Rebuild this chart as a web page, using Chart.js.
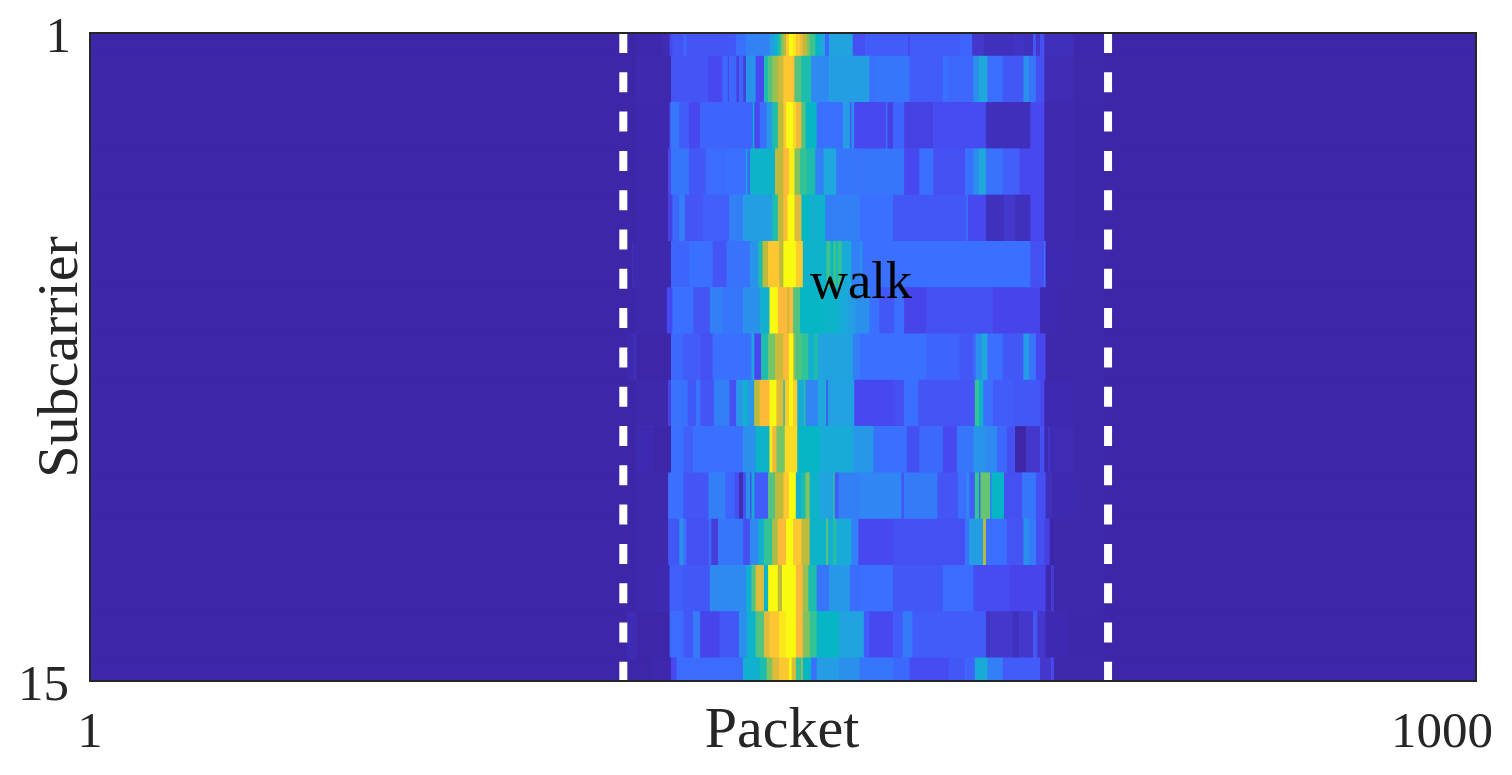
<!DOCTYPE html>
<html>
<head>
<meta charset="utf-8">
<title>walk</title>
<script src="https://cdn.jsdelivr.net/npm/chart.js@4"></script>
<style>
  html, body { margin: 0; padding: 0; background: #fff; }
  canvas { display: block; }
</style>
</head>
<body>
<canvas id="heatmap" width="1512" height="775"></canvas>
<script>
// each row: [first packet of the run, amplitude 0..1], a run lasts until the next one starts
const row01 = [[1,0],[395,.008],[414,.018],[419,.1],[421,.13],[429,.18],[431,.13],[460,.14],[467,.2],[474,.26],[491,.35],[494,.45],[497,.55],[499,.7],[501,.8],[503,.92],[505,1],[508,.97],[510,.92],[513,.88],[515,.8],[518,.72],[520,.62],[524,.5],[527,.4],[531,.18],[534,.38],[551,.12],[560,.15],[591,.08],[592,.15],[628,.17],[637,.05],[645,.03],[667,.04],[674,.03],[681,.14],[683,.05],[686,.12],[689,.025],[710,.008],[732,0]];
const row02 = [[1,0],[395,.01],[414,.005],[420,.13],[447,.1],[457,.18],[461,.1],[462,.18],[467,.08],[469,.17],[472,.07],[474,.32],[481,.1],[487,.55],[490,.65],[493,.75],[497,.82],[501,.92],[508,.9],[509,.65],[514,.55],[521,.28],[534,.36],[563,.2],[567,.22],[592,.15],[616,.2],[619,.18],[638,.3],[642,.4],[648,.2],[659,.14],[674,.3],[678,.22],[683,.12],[689,.018],[710,.005],[732,0]];
const row03 = [[1,0],[395,.008],[419,.15],[420,.22],[426,.15],[433,.1],[441,.17],[479,.5],[480,.1],[484,.2],[489,.33],[493,.55],[497,.8],[501,.92],[503,1],[508,.95],[510,.88],[514,.65],[517,.5],[525,.2],[544,.35],[549,.12],[550,.3],[552,.1],[575,.2],[576,.08],[580,.17],[588,.08],[609,.11],[647,.03],[652,.025],[679,.1],[689,.01],[710,.003],[732,0]];
const row04 = [[1,0],[395,.005],[418,.1],[420,.22],[433,.14],[445,.19],[460,.2],[474,.45],[475,.18],[477,.48],[495,.8],[501,.9],[505,.98],[509,.72],[513,.6],[518,.55],[524,.25],[530,.4],[539,.22],[557,.2],[558,.22],[588,.1],[599,.2],[609,.12],[632,.2],[638,.3],[642,.4],[647,.21],[659,.16],[671,.1],[689,.01],[710,.003],[732,0]];
const row05 = [[1,0],[395,.008],[418,.08],[421,.18],[426,.25],[430,.13],[443,.16],[462,.25],[472,.36],[493,.55],[497,.8],[501,.9],[504,1],[509,.85],[514,.5],[520,.45],[525,.48],[531,.25],[556,.2],[580,.14],[633,.22],[634,.1],[647,.03],[660,.05],[668,.03],[679,.1],[689,.01],[710,.003],[732,0]];
const row06 = [[1,0],[392,.012],[398,.005],[420,.17],[433,.2],[450,.13],[460,.21],[477,.32],[483,.55],[486,.8],[490,.92],[498,.8],[501,1],[510,.93],[515,.47],[532,.62],[535,.5],[537,.62],[539,.5],[540,.6],[543,.42],[550,.25],[556,.3],[558,.2],[679,.12],[689,.2],[690,.012],[710,.005],[732,0]];
const row07 = [[1,0],[395,.005],[417,.1],[421,.2],[436,.13],[448,.25],[457,.22],[472,.3],[484,.45],[491,1],[497,.9],[504,.8],[505,.9],[508,.65],[513,.5],[530,.48],[541,.42],[547,.36],[553,.3],[563,.2],[570,.14],[581,.2],[588,.09],[604,.12],[652,.09],[686,.012],[700,.005],[732,0]];
const row08 = [[1,0],[388,.012],[393,.025],[395,0],[420,.18],[429,.15],[441,.12],[450,.2],[478,.4],[480,.1],[485,.55],[490,.7],[495,.82],[501,.9],[505,1],[508,.85],[509,.65],[514,.6],[519,.45],[523,.55],[526,.38],[551,.25],[556,.2],[604,.17],[628,.14],[638,.2],[640,.3],[644,.4],[648,.2],[659,.14],[674,.35],[678,.22],[683,.1],[690,.005],[732,0]];
const row09 = [[1,0],[395,.005],[418,.08],[420,.21],[432,.14],[438,.22],[441,.13],[451,.25],[462,.12],[467,.33],[472,.47],[475,.33],[480,.8],[484,.9],[491,1],[496,.85],[501,.55],[502,.92],[505,1],[508,.93],[511,.43],[516,.58],[517,.27],[526,.4],[532,.1],[533,.37],[552,.1],[581,.12],[588,.2],[598,.13],[639,.6],[642,.48],[645,.2],[652,.15],[666,.14],[686,.1],[689,.012],[710,.005],[732,0]];
const row10 = [[1,0],[395,.012],[408,0],[420,.2],[429,.16],[436,.2],[472,.3],[481,.48],[491,.98],[493,.88],[496,.7],[502,.95],[511,.5],[527,.42],[551,.33],[566,.2],[580,.2],[590,.12],[599,.18],[616,.1],[626,.22],[638,.32],[647,.28],[655,.18],[662,.12],[668,0],[676,.05],[686,.12],[689,.012],[692,.06],[693,.018],[710,.005],[732,0]];
const row11 = [[1,0],[395,.005],[418,.2],[429,.13],[447,.25],[459,.17],[466,.12],[469,.02],[472,.12],[474,.3],[477,.1],[478,.45],[480,.15],[490,.65],[495,.8],[501,.92],[505,1],[510,.45],[514,.55],[517,.72],[520,.48],[527,.38],[537,.6],[538,.15],[541,.25],[556,.27],[586,.14],[588,.24],[612,.13],[627,.2],[633,.28],[635,.15],[639,.6],[642,.15],[643,.68],[650,.2],[651,.5],[660,.12],[673,.22],[683,.12],[690,.025],[694,.012],[714,.005],[732,0]];
const row12 = [[1,0],[395,.005],[418,.14],[426,.3],[429,.2],[431,.12],[447,.18],[449,.07],[454,.22],[472,.12],[477,.28],[483,.45],[487,.6],[493,.78],[497,.9],[503,1],[508,.92],[514,.8],[520,.48],[532,.72],[533,.45],[537,.58],[539,.42],[550,.25],[555,.1],[580,.12],[632,.22],[635,.36],[645,.8],[647,.2],[662,.13],[674,.3],[678,.24],[683,.12],[689,.08],[693,0],[696,.005],[732,0]];
const row13 = [[1,0],[395,.005],[408,.012],[419,.16],[429,.14],[448,.28],[474,.45],[478,.65],[481,.85],[487,.48],[490,1],[497,.8],[500,1],[510,.9],[515,.75],[519,.55],[525,.22],[534,.33],[549,.19],[556,.2],[580,.14],[616,.19],[638,.11],[664,.09],[690,.012],[694,.06],[696,.005],[732,0]];
const row14 = [[1,0],[388,.018],[395,0],[419,.19],[429,.14],[436,.24],[441,.09],[455,.14],[469,.3],[475,.48],[481,.65],[487,.85],[491,.92],[498,.97],[503,1],[510,.9],[515,.72],[520,.6],[525,.5],[541,.38],[559,.15],[563,.1],[580,.15],[587,.24],[594,.15],[647,.04],[650,.05],[666,.03],[671,.05],[681,.14],[684,.05],[690,.012],[706,.003],[732,0]];
const row15 = [[1,0],[407,.008],[420,.1],[424,.19],[472,.46],[484,.55],[489,.72],[493,.85],[498,.92],[505,1],[507,.85],[510,.6],[514,.8],[515,.5],[521,.2],[525,.35],[541,.3],[556,.22],[580,.18],[592,.11],[620,.14],[632,.17],[639,.42],[648,.25],[659,.15],[686,.05],[694,.1],[696,.005],[732,0]];

const rows = [row01, row02, row03, row04, row05, row06, row07, row08, row09, row10, row11, row12, row13, row14, row15];
const subcarriers = [1, 2, 3, 4, 5, 6, 7, 8, 9, 10, 11, 12, 13, 14, 15];
const lastPacket = 1000;

const yTickLabels = ['1', '15'];
const xTickLabels = ['1', '1000'];
const markerPackets = [385.4, 734.8];

// colour ramp, 11 even steps from 0 to 1
const ramp = [[61,38,168],[72,72,240],[58,112,255],[43,143,236],[30,168,220],[7,182,196],[50,195,150],[115,197,105],[190,187,60],[253,186,58],[248,250,15]];

function colourFor(v) {
    const pos = Math.min(v, 1) * (ramp.length - 1);
    const i = Math.min(Math.floor(pos), ramp.length - 2);
    const t = pos - i;
    const c = [0, 1, 2].map(k => Math.round(ramp[i][k] + (ramp[i + 1][k] - ramp[i][k]) * t));
    return `rgb(${c[0]},${c[1]},${c[2]})`;
}

// floating bars, one per run
const cells = [];
const cellColours = [];
rows.forEach((row, r) => {
    row.forEach((run, i) => {
        const end = i + 1 < row.length ? row[i + 1][0] : lastPacket;
        cells.push({ x: [run[0], end], y: subcarriers[r] });
        cellColours.push(colourFor(run[1]));
    });
});

const markerSets = markerPackets.map(p => ({
    type: 'line',
    data: [{ x: p, y: 1 }, { x: p, y: 15 }],
    borderColor: '#fff',
    borderWidth: 8,
    borderDash: [20, 19.3],
    pointRadius: 0,
    order: 0
}));

// frame and text
const textPlugin = {
    id: 'textPlugin',
    afterDraw(chart) {
        const ctx = chart.ctx;
        const a = chart.chartArea;
        const xs = chart.scales.x;
        const ys = chart.scales.y;
        ctx.save();
        ctx.strokeStyle = '#262626';
        ctx.lineWidth = 2;
        ctx.strokeRect(a.left, a.top, a.right - a.left, a.bottom - a.top);

        ctx.fillStyle = '#262626';
        ctx.textBaseline = 'alphabetic';
        ctx.font = '51px "Liberation Serif"';
        ctx.textAlign = 'right';
        ctx.fillText(yTickLabels[0], 71, ys.getPixelForValue(1) + 19);
        ctx.fillText(yTickLabels[1], 69, ys.getPixelForValue(15) + 19);
        ctx.textAlign = 'center';
        ctx.fillText(xTickLabels[0], xs.getPixelForValue(1), a.bottom + 66);
        ctx.textAlign = 'right';
        ctx.fillText(xTickLabels[1], a.right + 17, a.bottom + 66);

        ctx.font = '58px "Liberation Serif"';
        ctx.textAlign = 'center';
        ctx.fillText('Packet', (a.left + a.right) / 2 - 1, a.bottom + 66);
        ctx.translate(77, 357);
        ctx.rotate(-Math.PI / 2);
        ctx.fillText('Subcarrier', 0, 0);
        ctx.restore();

        ctx.save();
        ctx.fillStyle = '#000';
        ctx.font = '52.5px "Liberation Serif"';
        ctx.textAlign = 'left';
        ctx.fillText('walk', xs.getPixelForValue(520), ys.getPixelForValue(6.72));
        ctx.restore();
    }
};

new Chart(document.getElementById('heatmap'), {
    type: 'bar',
    data: {
        datasets: [{
            data: cells,
            backgroundColor: cellColours,
            borderWidth: 0,
            barPercentage: 1,
            categoryPercentage: 1,
            order: 1
        }].concat(markerSets)
    },
    options: {
        indexAxis: 'y',
        responsive: false,
        animation: false,
        devicePixelRatio: 1,
        layout: { padding: { left: 90, top: 33, right: 36, bottom: 94 } },
        plugins: { legend: { display: false }, tooltip: { enabled: false } },
        scales: {
            x: { type: 'linear', display: false, min: 1, max: lastPacket },
            y: { type: 'linear', display: false, min: 1, max: 15, reverse: true, offset: false }
        }
    },
    plugins: [textPlugin]
});
</script>
</body>
</html>
